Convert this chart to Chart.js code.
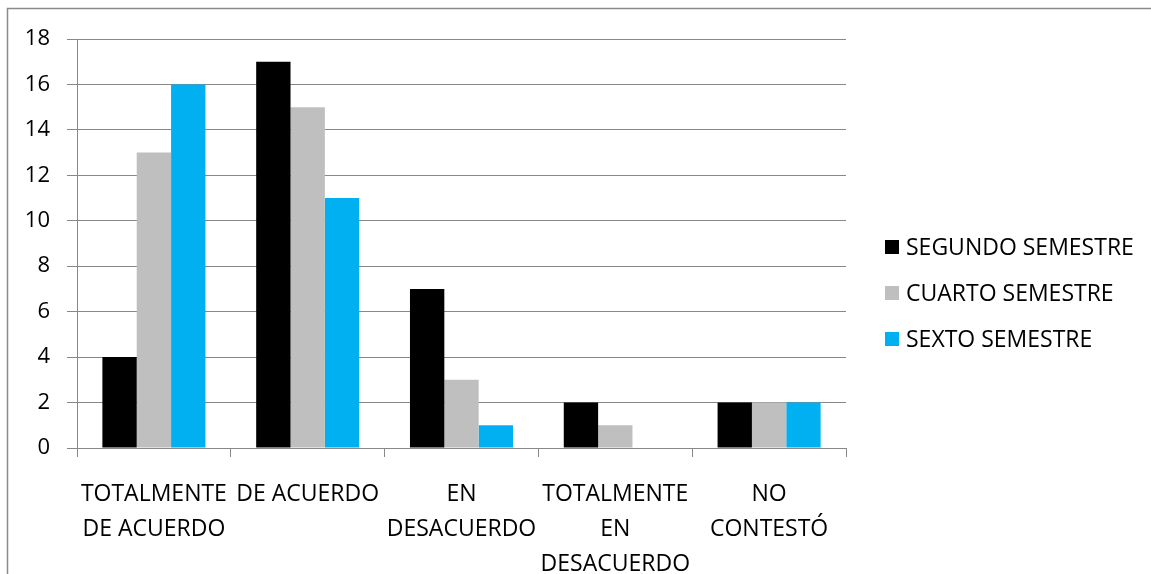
<!DOCTYPE html>
<html>
<head>
<meta charset="utf-8">
<script src="https://cdn.jsdelivr.net/npm/chart.js@4/dist/chart.umd.min.js"></script>
<style>
    html, body { margin: 0; padding: 0; background: #fff; }
    #wrap { width: 1151px; height: 574px; position: relative; }
</style>
</head>
<body>
<div id="wrap"><canvas id="barChart" width="1151" height="574"></canvas></div>
<script>
const categories = [
    ['TOTALMENTE', 'DE ACUERDO'],
    ['DE ACUERDO'],
    ['EN', 'DESACUERDO'],
    ['TOTALMENTE', 'EN', 'DESACUERDO'],
    ['NO', 'CONTESTÓ'],
];
const seriesNames = ['SEGUNDO SEMESTRE', 'CUARTO SEMESTRE', 'SEXTO SEMESTRE'];
const segundo = [4, 17, 7, 2, 2];
const cuarto = [13, 15, 3, 1, 2];
const sexto = [16, 11, 1, 0, 2];
const seriesColors = ['#000000', '#BFBFBF', '#00B0F0'];

const FONT = "'Open Sans', 'Liberation Sans', sans-serif";
const GRID = '#888888';

// marco gris del gráfico (solo arriba y a la izquierda se ven)
const framePlugin = {
    id: 'frame',
    beforeDraw(chart) {
        const ctx = chart.ctx;
        ctx.save();
        ctx.fillStyle = '#fff';
        ctx.fillRect(0, 0, chart.width, chart.height);
        ctx.strokeStyle = '#8a8a8a';
        ctx.lineWidth = 1.5;
        ctx.beginPath();
        ctx.moveTo(7.5, chart.height);
        ctx.lineTo(7.5, 8.5);
        ctx.lineTo(chart.width, 8.5);
        ctx.stroke();
        ctx.restore();
    },
};

// leyenda a la derecha
const legendPlugin = {
    id: 'sideLegend',
    afterDraw(chart) {
        const ctx = chart.ctx;
        ctx.save();
        ctx.font = `23px ${FONT}`;
        ctx.textBaseline = 'middle';
        chart.data.datasets.forEach((ds, i) => {
            const y = 248 + i * 46;
            ctx.fillStyle = ds.backgroundColor;
            ctx.fillRect(885, y - 8, 14, 14);
            ctx.fillStyle = '#000';
            ctx.fillText(ds.label, 906, y);
        });
        ctx.restore();
    },
};

const barChartData = {
    labels: categories,
    datasets: [segundo, cuarto, sexto].map((values, i) => ({
        label: seriesNames[i],
        data: values,
        backgroundColor: seriesColors[i],
        borderWidth: 0,
        categoryPercentage: 0.67,
        barPercentage: 1.0,
    })),
};

new Chart(document.getElementById('barChart').getContext('2d'), {
    type: 'bar',
    data: barChartData,
    options: {
        responsive: false,
        animation: false,
        devicePixelRatio: 1,
        layout: { padding: { top: 39, right: 305, left: 0, bottom: 0 } },
        plugins: {
            legend: { display: false },
            tooltip: { enabled: false },
        },
        scales: {
            x: {
                grid: {
                    display: true,
                    drawOnChartArea: false,
                    drawTicks: true,
                    tickLength: 9,
                    color: GRID,
                    offset: true,
                },
                border: { color: GRID, width: 1 },
                ticks: {
                    color: '#000',
                    padding: 20,
                    maxRotation: 0,
                    autoSkip: false,
                    font: { family: FONT, size: 23, lineHeight: 35 / 23 },
                },
                afterFit(scale) { scale.height = 574 - 448; },
            },
            y: {
                min: 0,
                max: 18,
                ticks: {
                    stepSize: 2,
                    color: '#000',
                    padding: 17,
                    font: { family: FONT, size: 22 },
                },
                grid: { color: GRID, tickLength: 10 },
                border: { color: GRID, width: 1 },
                afterFit(scale) { scale.width = 77; },
            },
        },
    },
    plugins: [framePlugin, legendPlugin],
});
</script>
</body>
</html>
